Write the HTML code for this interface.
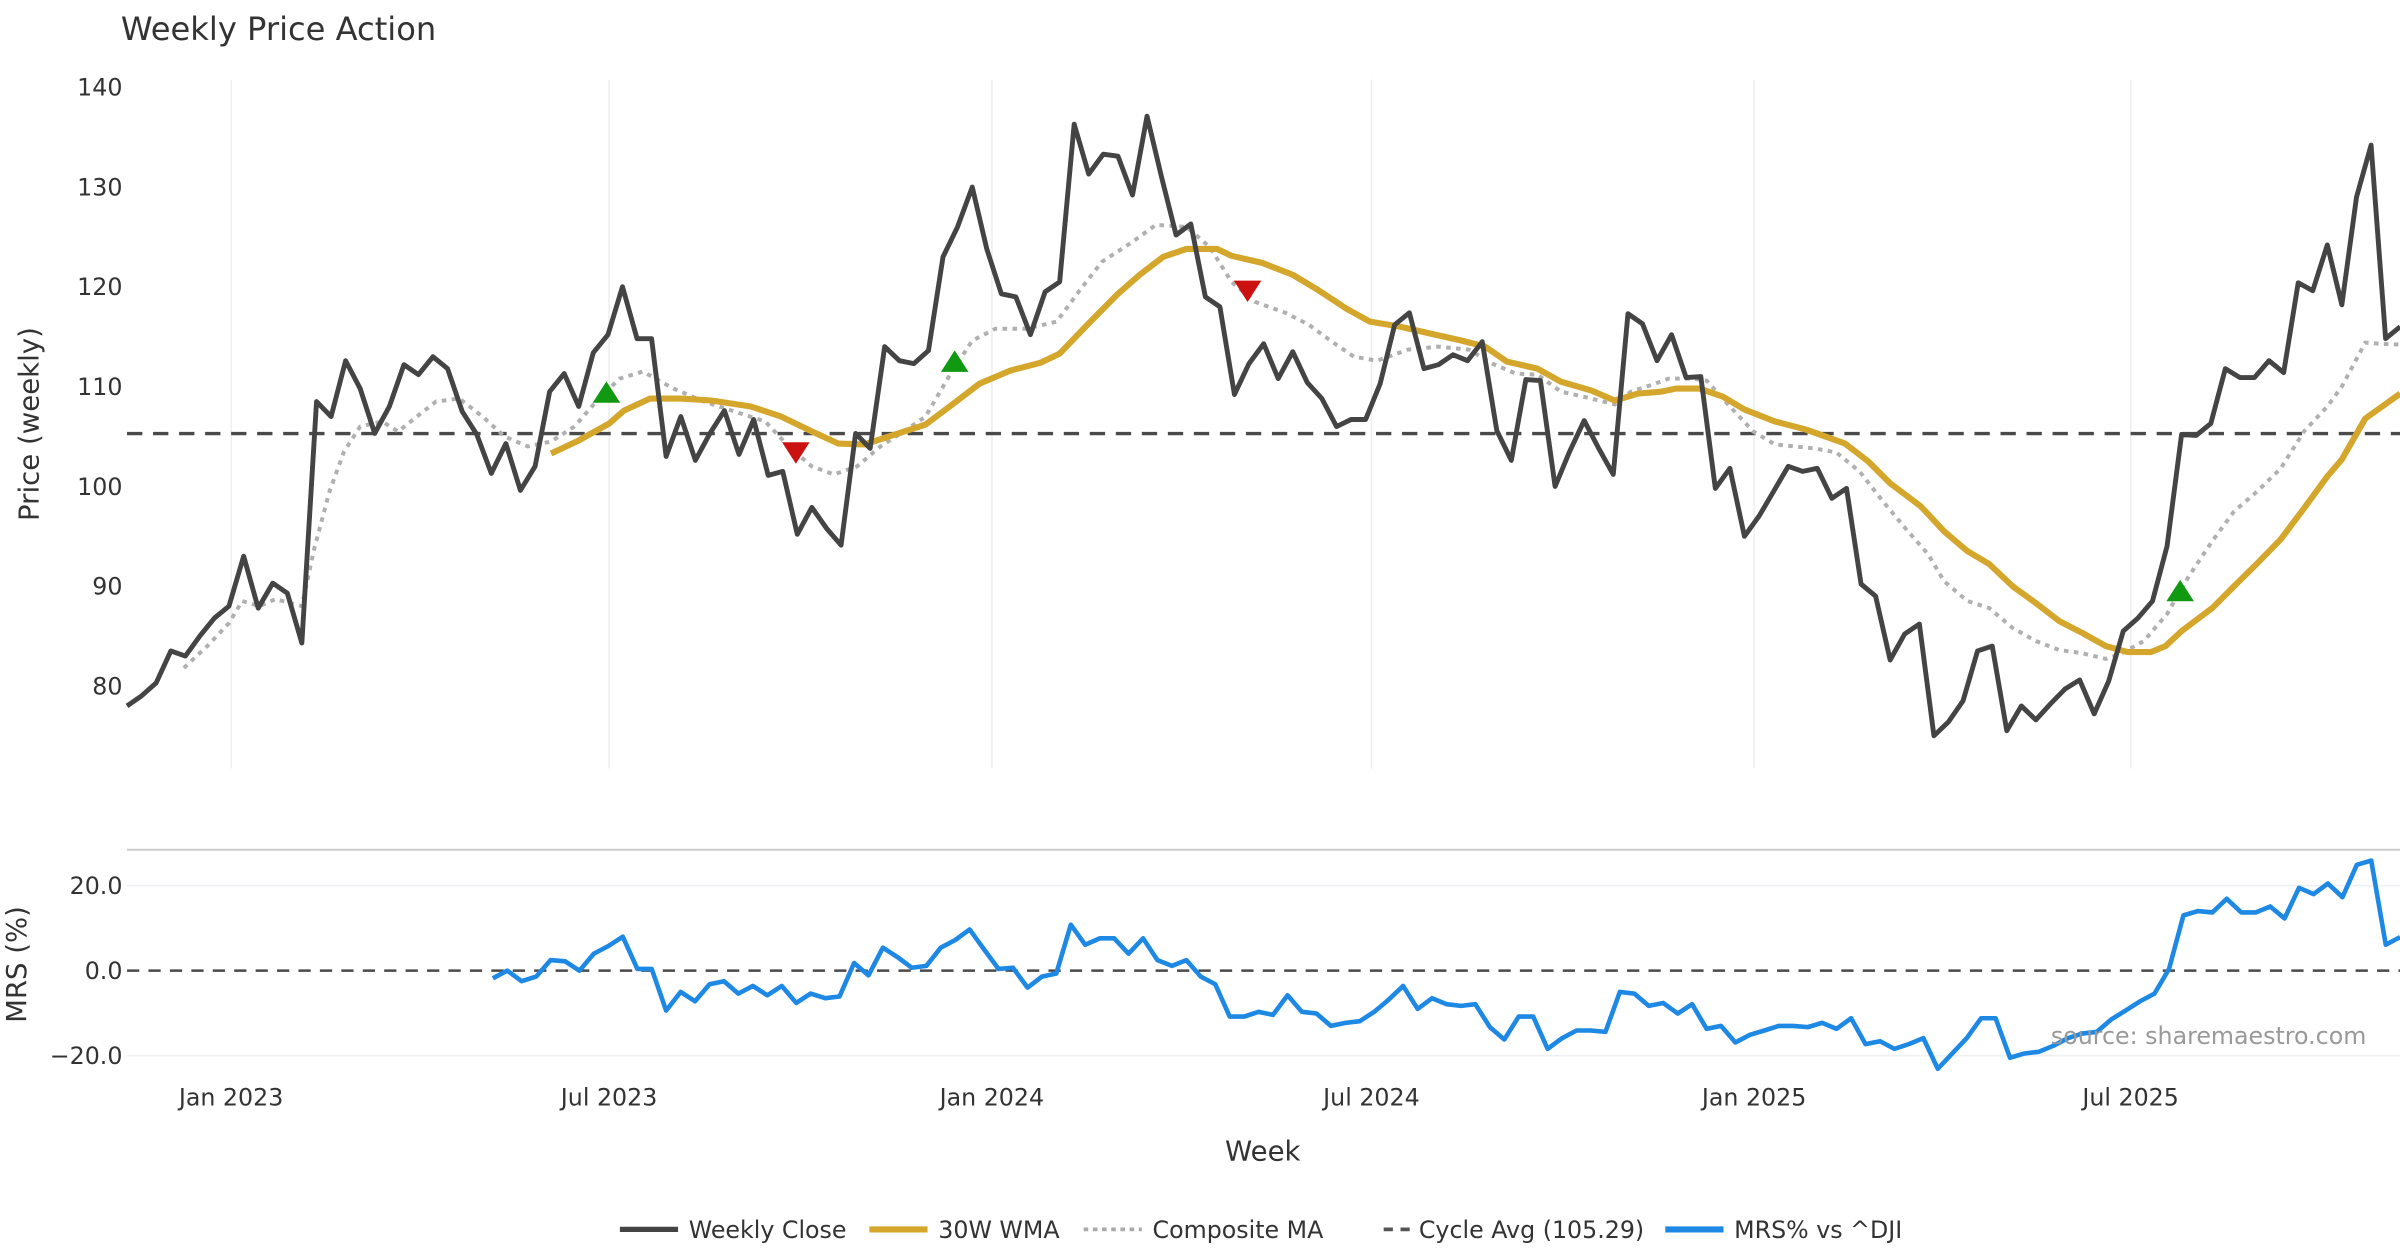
<!DOCTYPE html>
<html><head><meta charset="utf-8"><title>Weekly Price Action</title>
<style>
html,body{margin:0;padding:0;background:#fff;}
svg{display:block;font-family:"DejaVu Sans","Liberation Sans",sans-serif;}
</style></head>
<body>
<svg id="chart" width="2400" height="1260" viewBox="0 0 1568 823" preserveAspectRatio="none" xmlns="http://www.w3.org/2000/svg">
<text x="79" y="26" font-size="21" fill="#333">Weekly Price Action</text>
<g id="main"></g>
<g id="lower"></g>
<text x="825" y="758" font-size="18" fill="#333" text-anchor="middle">Week</text>
<text transform="translate(25,277) rotate(-90)" font-size="18" fill="#333" text-anchor="middle">Price (weekly)</text>
<text transform="translate(17,630) rotate(-90)" font-size="18" fill="#333" text-anchor="middle">MRS (%)</text>
<text x="1546" y="682" font-size="15.5" fill="#999" text-anchor="end">source: sharemaestro.com</text>
<g id="legend">
  <g><line x1="405" y1="803" x2="443" y2="803" stroke="#444" stroke-width="3.5"/><text x="450" y="808.5" font-size="15.5" fill="#333">Weekly Close</text></g>
  <g><line x1="568" y1="803" x2="606" y2="803" stroke="#d4a72c" stroke-width="4"/><text x="613" y="808.5" font-size="15.5" fill="#333">30W WMA</text></g>
  <g><line x1="708" y1="803" x2="746" y2="803" stroke="#aaa" stroke-width="2.5" stroke-dasharray="3,3"/><text x="753" y="808.5" font-size="15.5" fill="#333">Composite MA</text></g>
  <g><line x1="904" y1="803" x2="921" y2="803" stroke="#555" stroke-width="2.5" stroke-dasharray="6,5"/><text x="927" y="808.5" font-size="15.5" fill="#333">Cycle Avg (105.29)</text></g>
  <g><line x1="1088" y1="803" x2="1126" y2="803" stroke="#1e88e5" stroke-width="4"/><text x="1133" y="808.5" font-size="15.5" fill="#333">MRS% vs ^DJI</text></g>
</g>
</svg>
<script>
const xTickLabels = ["Jan 2023","Jul 2023","Jan 2024","Jul 2024","Jan 2025","Jul 2025"];
const xTickWeeks = [7.14, 33.08, 59.35, 85.4, 111.66, 137.5];
const priceTicks = [80,90,100,110,120,130,140];
const mrsTicks = [-20,0,20];
const cycleAvg = 105.29;
const closeVals = [78,79,80.3,83.5,83,85,86.8,88,93,87.8,90.3,89.3,84.3,108.5,107,112.6,109.8,105.3,108,112.2,111.2,113,111.8,107.5,105.2,101.3,104.3,99.6,102,109.5,111.3,108,113.4,115.2,120,114.8,114.8,103,107,102.6,105.3,107.6,103.2,106.7,101.1,101.5,95.2,97.9,95.8,94.1,105.3,103.8,114,112.6,112.3,113.6,123,126,130,123.8,119.3,119,115.2,119.5,120.5,136.3,131.3,133.3,133.1,129.2,137.1,131,125.2,126.3,119,118,109.2,112.3,114.3,110.8,113.5,110.4,108.8,106,106.7,106.7,110.3,116.2,117.4,111.8,112.2,113.2,112.6,114.5,105.6,102.6,110.7,110.6,100,103.5,106.6,103.8,101.2,117.3,116.3,112.6,115.2,110.9,111,99.8,101.8,95,97,99.5,102,101.5,101.8,98.8,99.8,90.2,89,82.6,85.2,86.2,75,76.4,78.5,83.5,84,75.5,78,76.6,78.2,79.7,80.6,77.2,80.5,85.5,86.8,88.5,94,105.2,105.1,106.3,111.8,110.9,110.9,112.6,111.4,120.4,119.6,124.2,118.2,129,134.2,114.8,116];
const wmaWeeks = [29.1,31,33.1,34.1,35.9,38,40.1,42.8,44.9,47,48.8,50.6,52.7,54.8,56.9,58.5,60.6,62.7,64,65.9,68,69.5,71.1,72.7,74.8,75.8,77.9,80,81.6,83.7,85.3,87.4,89.5,91.6,93.2,94.7,96.8,98.4,100.5,102.1,103.7,105.3,106.3,107.9,109.5,111,113.1,115.2,117.9,119.5,121,123.1,124.7,126.3,127.8,129.4,131,132.6,134.2,135.8,137.3,138.9,139.9,141,143.1,144.6,146.2,147.8,149.4,151,152,153.6,156];
const wmaVals = [103.3,104.6,106.3,107.6,108.8,108.8,108.6,108,107,105.5,104.3,104.2,105.2,106.2,108.5,110.3,111.6,112.4,113.3,116.2,119.3,121.2,123,123.8,123.8,123.1,122.4,121.2,119.8,117.8,116.5,116,115.3,114.6,114,112.5,111.8,110.5,109.6,108.6,109.3,109.5,109.8,109.8,109,107.7,106.5,105.7,104.3,102.5,100.3,98,95.5,93.5,92.2,90,88.3,86.5,85.3,84,83.4,83.4,84,85.5,87.8,90,92.3,94.7,97.8,101,102.7,106.8,109.3];
const compWeeks = [3.9,5.5,7,7.9,9.1,10.2,11.2,12,12.8,13.9,14.9,16,17.5,18.6,19.9,21.2,22.8,24.4,25.9,27.5,29.1,30.7,32.2,33.8,35.4,37.5,39.6,41.7,43.8,45.4,47,48.5,50.1,51.7,53.3,54.8,56.4,58,59.6,61.7,63.8,65.3,66.9,69,70.6,72.7,74.3,75.8,77.4,79.5,81.1,82.7,84.2,85.8,87.9,90,92.1,93.7,95.3,96.8,98.4,100.5,102.1,103.2,104.7,105.8,107.4,108.4,110,111.6,113.1,115.8,117.3,118.9,120.5,122.1,123.6,124.7,126.3,127.8,129.4,131,132.6,134.1,135.8,136.8,138.4,140,141.5,143.1,144.6,146.2,147.8,149.4,151,152,153.6,154.6,156];
const compVals = [81.8,84,86.3,88.5,88,88.7,88.3,88,93.5,99.5,103.5,106,106.5,105.5,107,108.5,108.8,107,105,104,104.5,106,108.5,110.8,111.5,109.8,108.5,107.5,106.5,104,102,101.2,102,104,105.5,107,111,114.6,115.8,115.8,116.5,119.5,122.5,124.5,126.2,126,124,120.5,118.5,117.4,116.2,114.5,113,112.6,113.7,114,113.7,112.3,111.3,111.2,109.5,108.8,108.2,109.5,110.2,110.8,110.8,110.6,108,105.5,104.2,103.8,103.4,101.5,98.5,95.7,93.2,90.5,88.5,87.8,85.8,84.5,83.6,83.3,82.7,83.2,84.5,87.2,91,94.5,97.5,99.5,101.8,105.5,108,110,114.4,114.3,114.2];
const mrsVals = [-1.8,0,-2.5,-1.4,2.5,2.2,0,4,5.8,8,0.4,0.4,-9.4,-5,-7.2,-3.2,-2.5,-5.4,-3.6,-5.8,-3.6,-7.6,-5.4,-6.5,-6.1,1.8,-1.1,5.4,3.2,0.7,1.1,5.4,7.2,9.7,5,0.4,0.7,-4,-1.4,-0.7,10.8,6.1,7.6,7.6,4,7.6,2.5,1.1,2.5,-1.4,-3.2,-10.8,-10.8,-9.7,-10.4,-5.8,-9.7,-10.1,-13,-12.3,-11.9,-9.7,-6.8,-3.6,-9,-6.5,-7.9,-8.3,-7.9,-13.3,-16.2,-10.8,-10.8,-18.4,-15.9,-14.1,-14.1,-14.4,-5,-5.4,-8.3,-7.6,-10.1,-7.9,-13.7,-13,-16.9,-15.1,-14.1,-13,-13,-13.3,-12.3,-13.7,-11.2,-17.3,-16.6,-18.4,-17.3,-15.9,-23.1,-19.5,-15.9,-11.2,-11.2,-20.5,-19.5,-19.1,-17.7,-15.9,-14.8,-14.4,-11.5,-9.4,-7.2,-5.4,0.4,13,14,13.7,16.9,13.7,13.7,15.1,12.3,19.5,18,20.5,17.3,24.9,25.9,6.1,7.9];
const mrsFirstWeek = 25.1;
const mrsLastWeek = 156;
const buyWeeks = [32.9,56.8,140.9];
const buyVals = [109.3,112.4,89.4];
const sellWeeks = [45.9,76.9];
const sellVals = [103.5,119.7];

const NS = "http://www.w3.org/2000/svg";
const X0 = 83, WK = 9.52;
function xs(w){ return X0 + w*WK; }
function yPrice(v){ return 57 + (140 - v)*6.517; }
function yMrs(v){ return 634 - v*2.775; }
function mk(tag, attrs, parent){ const e=document.createElementNS(NS,tag); for(const k in attrs) e.setAttribute(k, attrs[k]); parent.appendChild(e); return e; }
const mainG = document.getElementById('main');
const lowerG = document.getElementById('lower');

xTickWeeks.forEach((w,i)=>{
  const g = mk('line',{x1:xs(w),x2:xs(w),y1:52,y2:502,stroke:'#eceef0','stroke-width':1},mainG);
  
  
  const t = mk('text',{x:xs(w),y:722,'font-size':15.5,fill:'#333','text-anchor':'middle'},lowerG);
  t.textContent = xTickLabels[i];
  
  
});
priceTicks.forEach(v=>{
  const t = mk('text',{x:80,y:yPrice(v)+5.5,'font-size':15.5,fill:'#333','text-anchor':'end'},mainG);
  t.textContent = v;
  
  
});
const ca = mk('line',{x1:X0,x2:1568,y1:yPrice(cycleAvg),y2:yPrice(cycleAvg),stroke:'#4a4a4a','stroke-width':2.2,'stroke-dasharray':'10,7'},mainG);



function pathD(weeks, vals, yf){ return weeks.map((w,i)=>(i?'L':'M')+xs(w).toFixed(1)+','+yf(vals[i]).toFixed(1)).join(''); }
const comp = mk('path',{d:pathD(compWeeks,compVals,yPrice),fill:'none',stroke:'#b0b0b0','stroke-width':2.6,'stroke-dasharray':'3,3.5'},mainG);


const wma = mk('path',{d:pathD(wmaWeeks,wmaVals,yPrice),fill:'none',stroke:'#d4a72c','stroke-width':4,'stroke-linejoin':'round'},mainG);


const closeWeeks = closeVals.map((_,i)=>i);
const cl = mk('path',{d:pathD(closeWeeks,closeVals,yPrice),fill:'none',stroke:'#444','stroke-width':3.2,'stroke-linejoin':'round'},mainG);


buyWeeks.forEach((w,i)=>{
  const x=xs(w), y=yPrice(buyVals[i]);
  const p = mk('polygon',{points:`${x-9},${y+6} ${x+9},${y+6} ${x},${y-8}`,fill:'#119a11'},mainG);
  
  
});
sellWeeks.forEach((w,i)=>{
  const x=xs(w), y=yPrice(sellVals[i]);
  const p = mk('polygon',{points:`${x-9},${y-6} ${x+9},${y-6} ${x},${y+8}`,fill:'#cc1111'},mainG);
  
  
});

const panelTop = mk('line',{x1:X0,x2:1568,y1:555,y2:555,stroke:'#cccccc','stroke-width':1.3},lowerG);


mrsTicks.forEach(v=>{
  if(v!==0){
    const g = mk('line',{x1:X0,x2:1568,y1:yMrs(v),y2:yMrs(v),stroke:'#eef0f3','stroke-width':1},lowerG);
    
    
  }
  const t = mk('text',{x:80,y:yMrs(v)+5.5,'font-size':15.5,fill:'#333','text-anchor':'end'},lowerG);
  t.textContent = (v<0?'\u2212':'')+Math.abs(v).toFixed(1);
  
  
});
const zero = mk('line',{x1:X0,x2:1568,y1:yMrs(0),y2:yMrs(0),stroke:'#4a4a4a','stroke-width':1.6,'stroke-dasharray':'8,6'},lowerG);


const mStep = (mrsLastWeek - mrsFirstWeek)/(mrsVals.length-1);
const mrsWeeks = mrsVals.map((_,i)=>mrsFirstWeek+i*mStep);
const mrs = mk('path',{d:pathD(mrsWeeks,mrsVals,yMrs),fill:'none',stroke:'#1e88e5','stroke-width':3,'stroke-linejoin':'round'},lowerG);


</script>
</body></html>
